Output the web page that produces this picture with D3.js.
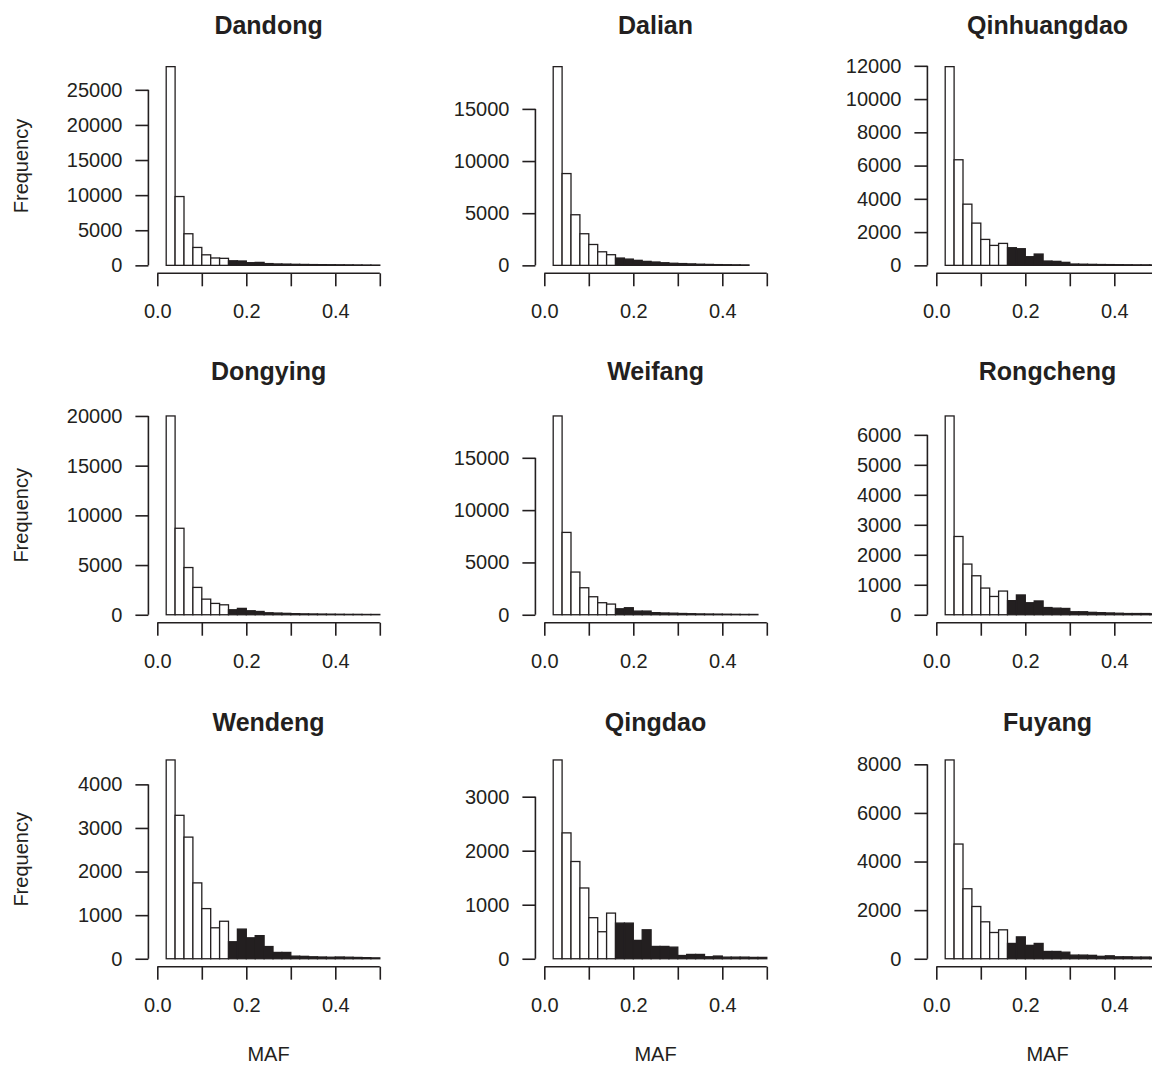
<!DOCTYPE html>
<html>
<head>
<meta charset="utf-8">
<script src="https://cdn.jsdelivr.net/npm/d3@7"></script>
<style>
  body { margin: 0; background: #fff; }
  text { font-family: "Liberation Sans", Arial, Helvetica, sans-serif; fill: #231f20; }
</style>
</head>
<body>
<svg width="1152" height="1066"></svg>
<script>
// MAF bin edges (hist breaks)
const breaks = [0.02, 0.04, 0.06, 0.08, 0.10, 0.12, 0.14, 0.16, 0.18, 0.20, 0.22, 0.24,
  0.26, 0.28, 0.30, 0.32, 0.34, 0.36, 0.38, 0.40, 0.42, 0.44, 0.46, 0.48, 0.50];
const darkFrom = 0.16;

const xTicks = [0, 0.1, 0.2, 0.3, 0.4, 0.5];
const xTickLabels = ["0.0", "", "0.2", "", "0.4", ""];

const cities = ["Dandong", "Dalian", "Qinhuangdao", "Dongying", "Weifang", "Rongcheng",
  "Wendeng", "Qingdao", "Fuyang"];

const dandong = [28300, 9800, 4500, 2550, 1500, 1050, 1000, 650, 620, 380, 420, 250,
  200, 180, 150, 130, 110, 100, 90, 80, 70, 60, 50, 40];
const dalian = [19050, 8800, 4850, 3030, 2000, 1300, 1020, 700, 600, 480, 380, 320,
  250, 200, 170, 140, 110, 90, 70, 60, 50, 40];
const qinhuangdao = [11950, 6350, 3680, 2540, 1560, 1200, 1320, 1060, 1000, 520, 680, 260,
  240, 180, 80, 70, 60, 50, 45, 40, 35, 30, 30, 25];
const dongying = [20000, 8700, 4750, 2750, 1570, 1140, 1000, 500, 640, 400, 330, 200,
  170, 140, 110, 90, 80, 70, 60, 50, 40, 40, 30, 30];
const weifang = [19000, 7870, 4080, 2580, 1720, 1150, 1020, 570, 670, 350, 350, 200,
  170, 150, 120, 100, 80, 70, 60, 50, 40, 30, 30];
const rongcheng = [6630, 2610, 1690, 1300, 890, 610, 790, 470, 660, 400, 460, 240,
  220, 210, 100, 100, 80, 70, 60, 50, 40, 40, 40, 30];
const wendeng = [4560, 3290, 2790, 1740, 1150, 710, 860, 390, 680, 480, 530, 280,
  145, 145, 60, 55, 45, 40, 35, 40, 35, 30, 25, 20];
const qingdao = [3680, 2330, 1800, 1310, 760, 500, 845, 660, 660, 340, 536, 228,
  228, 215, 60, 80, 80, 37, 50, 30, 30, 30, 25, 25];
const fuyang = [8180, 4720, 2880, 2150, 1520, 1080, 1190, 630, 900, 550, 630, 300,
  300, 270, 150, 150, 140, 100, 120, 80, 80, 70, 70, 60];

const counts = [dandong, dalian, qinhuangdao, dongying, weifang, rongcheng, wendeng, qingdao, fuyang];

const yTicks = [
  [0, 5000, 10000, 15000, 20000, 25000],
  [0, 5000, 10000, 15000],
  [0, 2000, 4000, 6000, 8000, 10000, 12000],
  [0, 5000, 10000, 15000, 20000],
  [0, 5000, 10000, 15000],
  [0, 1000, 2000, 3000, 4000, 5000, 6000],
  [0, 1000, 2000, 3000, 4000],
  [0, 1000, 2000, 3000],
  [0, 2000, 4000, 6000, 8000]
];

const ink = "#231f20";

const svg = d3.select("svg");

const colLeft = [148.4, 535.4, 927.4];
const rowTop = [58.7, 408, 752];
const rowBottom = [273.3, 622.7, 966.7];
const titleY = [33.5, 379.5, 731];
const plotWidth = 240.3;
const mafY = 1061;

const histPanel = (selection, props) => {
  const { name, values, ticks, innerWidth, innerHeight, titleBase, showYLabel, showXLabel } = props;

  const maxCount = d3.max(values);

  const xScale = d3
    .scaleLinear()
    .domain([-0.02, 0.52])
    .range([0, innerWidth]);

  const yScale = d3
    .scaleLinear()
    .domain([-0.04 * maxCount, 1.04 * maxCount])
    .range([innerHeight, 0]);

  selection
    .append("text")
    .attr("x", innerWidth / 2)
    .attr("y", titleBase)
    .attr("text-anchor", "middle")
    .attr("font-size", "25px")
    .attr("font-weight", "bold")
    .text(name);

  selection
    .selectAll(".bar")
    .data(values)
    .enter()
    .append("rect")
    .attr("class", "bar")
    .attr("x", (d, i) => xScale(breaks[i]))
    .attr("width", (d, i) => xScale(breaks[i + 1]) - xScale(breaks[i]))
    .attr("y", d => yScale(d))
    .attr("height", d => yScale(0) - yScale(d))
    .attr("fill", (d, i) => (breaks[i] >= darkFrom - 1e-9 ? ink : "#fff"))
    .attr("stroke", ink)
    .attr("stroke-width", 1.3);

  // x axis
  const xAxis = d3
    .axisBottom(xScale)
    .tickValues(xTicks)
    .tickFormat((d, i) => xTickLabels[i])
    .tickSize(13)
    .tickPadding(18);

  const xAxisG = selection
    .append("g")
    .attr("transform", `translate(0,${innerHeight})`)
    .call(xAxis);
  xAxisG.select(".domain").remove();
  xAxisG
    .append("line")
    .attr("x1", xScale(0))
    .attr("x2", xScale(0.5))
    .attr("stroke", ink)
    .attr("stroke-width", 1.6);
  xAxisG.selectAll(".tick line").attr("stroke", ink).attr("stroke-width", 1.6);
  xAxisG
    .selectAll(".tick text")
    .attr("font-size", "20px")
    .attr("font-family", null)
    .attr("fill", ink);

  // y axis
  const yAxis = d3
    .axisLeft(yScale)
    .tickValues(ticks)
    .tickFormat(d3.format("d"))
    .tickSize(13)
    .tickPadding(13);

  const yAxisG = selection.append("g").call(yAxis);
  yAxisG.select(".domain").remove();
  yAxisG
    .append("line")
    .attr("y1", yScale(0))
    .attr("y2", yScale(d3.max(ticks)))
    .attr("stroke", ink)
    .attr("stroke-width", 1.6);
  yAxisG.selectAll(".tick line").attr("stroke", ink).attr("stroke-width", 1.6);
  yAxisG
    .selectAll(".tick text")
    .attr("font-size", "20px")
    .attr("font-family", null)
    .attr("fill", ink);

  if (showYLabel) {
    selection
      .append("text")
      .attr("transform", `translate(${28 - 148.4},${innerHeight / 2}) rotate(-90)`)
      .attr("text-anchor", "middle")
      .attr("font-size", "20px")
      .text("Frequency");
  }

  if (showXLabel) {
    selection
      .append("text")
      .attr("x", innerWidth / 2)
      .attr("y", mafY - rowTop[2])
      .attr("text-anchor", "middle")
      .attr("font-size", "20px")
      .text("MAF");
  }
};

cities.forEach((name, i) => {
  const col = i % 3;
  const row = Math.floor(i / 3);
  svg
    .append("g")
    .attr("transform", `translate(${colLeft[col]},${rowTop[row]})`)
    .call(histPanel, {
      name,
      values: counts[i],
      ticks: yTicks[i],
      innerWidth: plotWidth,
      innerHeight: rowBottom[row] - rowTop[row],
      titleBase: titleY[row] - rowTop[row],
      showYLabel: col === 0,
      showXLabel: row === 2
    });
});
</script>
</body>
</html>
